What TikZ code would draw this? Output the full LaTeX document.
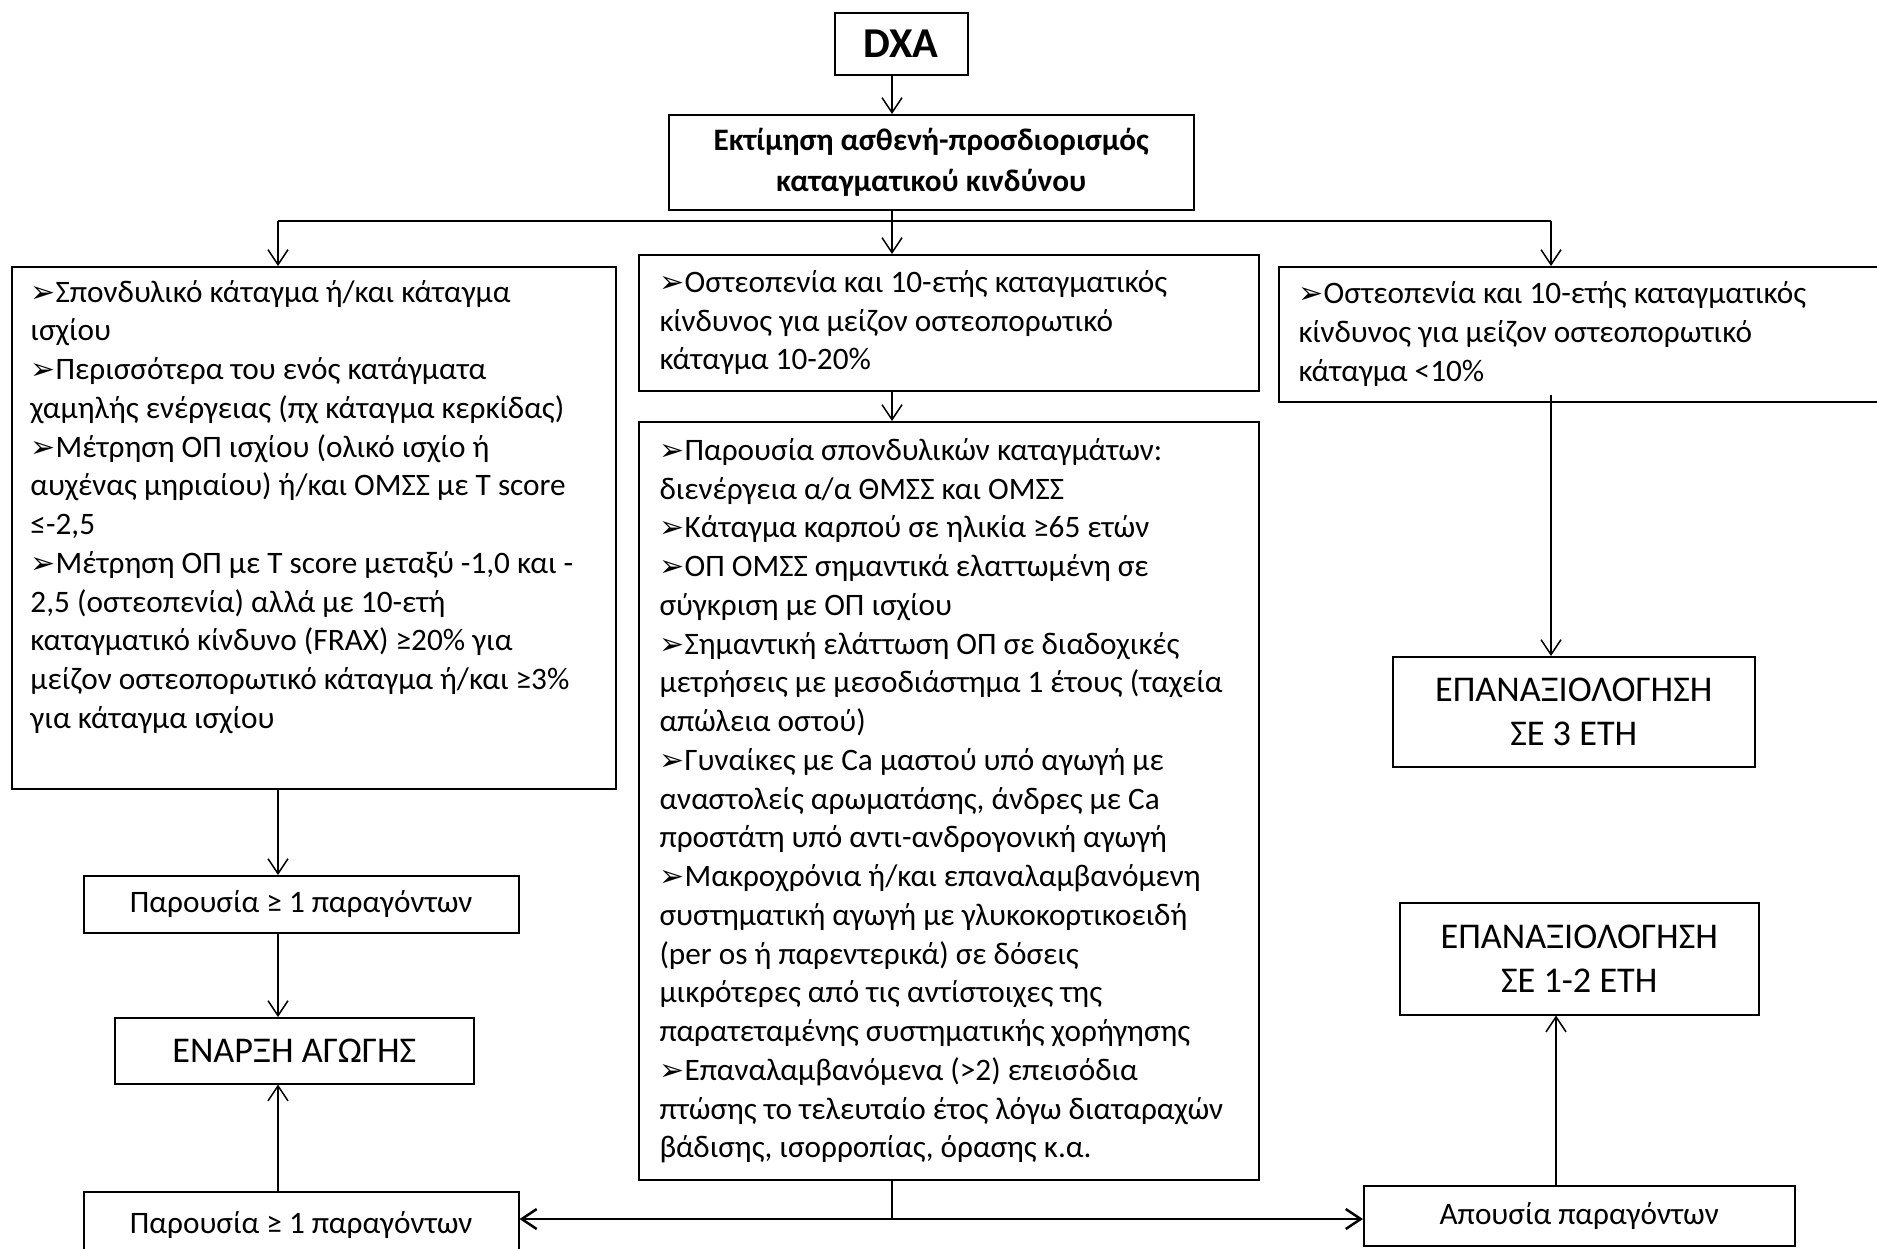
\documentclass[tikz,border=0pt]{standalone}
\usepackage{fontspec}
\setmainfont{Carlito}
\newfontfamily\symfont{DejaVu Sans}
\usetikzlibrary{positioning}
\usetikzlibrary{arrows.meta}

\def\u{0.4pt}
\newcommand{\bullt}{{\symfont\fontsize{12}{12}\selectfont ➢}}

\begin{document}
\begin{tikzpicture}[
      , x=0.4pt, y=-0.4pt
      , box/.style={draw, line width=0.6pt, inner sep=0pt, anchor=north west}
      , txt/.style={font=\fontsize{12.5}{15.5}\selectfont, align=left, inner sep=0pt, anchor=west}
      , big/.style={font=\fontsize{14.5}{17.5}\selectfont, align=center}
      , small/.style={font=\fontsize{12.5}{15.5}\selectfont}
      , link/.style={->, line width=0.6pt}
      ]

      \tikzset{>={Straight Barb[length=6pt,width=8pt]}}

      \fill[white] (0,0) rectangle (1877,1248);
      \useasboundingbox (0,0) rectangle (1877,1248);

      \node[box, minimum width=133*\u, minimum height=62*\u, font=\fontsize{17}{20}\selectfont\bfseries] (dxa) at (834,12) {DXA\hspace{6pt}};
      \node[box, minimum width=525*\u, minimum height=95*\u, align=center, font=\fontsize{12.5}{16.5}\selectfont\bfseries] (assess) at (668,114) {Εκτίμηση ασθενή-προσδιορισμός\\καταγματικού κινδύνου};

      \node[box, minimum width=604*\u, minimum height=522*\u] (op-high) at (11,266) {};
      \node[box, minimum width=620*\u, minimum height=136*\u] (op-mid) at (638,254) {};
      \node[box, minimum width=640*\u, minimum height=135*\u] (op-low) at (1278,266) {};
      \node[box, minimum width=620*\u, minimum height=758*\u] (extra) at (638,421) {};

      \node[txt] (op-high-txt) at ([xshift=19*\u, yshift=21*\u]op-high.west) {%
        \bullt Σπονδυλικό κάταγμα ή/και κάταγμα\\
        ισχίου\\
        \bullt Περισσότερα του ενός κατάγματα\\
        χαμηλής ενέργειας (πχ κάταγμα κερκίδας)\\
        \bullt Μέτρηση ΟΠ ισχίου (ολικό ισχίο ή\\
        αυχένας μηριαίου) ή/και ΟΜΣΣ με T score\\
        ≤-2,5\\
        \bullt Μέτρηση ΟΠ με T score μεταξύ -1,0 και -\\
        2,5 (οστεοπενία) αλλά με 10-ετή\\
        καταγματικό κίνδυνο (FRAX) ≥20\% για\\
        μείζον οστεοπορωτικό κάταγμα ή/και ≥3\%\\
        για κάταγμα ισχίου};
      \node[txt] (op-mid-txt) at ([xshift=21*\u]op-mid.west) {%
        \bullt Οστεοπενία και 10-ετής καταγματικός\\
        κίνδυνος για μείζον οστεοπορωτικό\\
        κάταγμα 10-20\%};
      \node[txt] (op-low-txt) at ([xshift=20*\u]op-low.west) {%
        \bullt Οστεοπενία και 10-ετής καταγματικός\\
        κίνδυνος για μείζον οστεοπορωτικό\\
        κάταγμα <10\%};
      \node[txt] (extra-txt) at ([xshift=21*\u]extra.west) {%
        \bullt Παρουσία σπονδυλικών καταγμάτων:\\
        διενέργεια α/α ΘΜΣΣ και ΟΜΣΣ\\
        \bullt Κάταγμα καρπού σε ηλικία ≥65 ετών\\
        \bullt ΟΠ ΟΜΣΣ σημαντικά ελαττωμένη σε\\
        σύγκριση με ΟΠ ισχίου\\
        \bullt Σημαντική ελάττωση ΟΠ σε διαδοχικές\\
        μετρήσεις με μεσοδιάστημα 1 έτους (ταχεία\\
        απώλεια οστού)\\
        \bullt Γυναίκες με Ca μαστού υπό αγωγή με\\
        αναστολείς αρωματάσης, άνδρες με Ca\\
        προστάτη υπό αντι-ανδρογονική αγωγή\\
        \bullt Μακροχρόνια ή/και επαναλαμβανόμενη\\
        συστηματική αγωγή με γλυκοκορτικοειδή\\
        (per os ή παρεντερικά) σε δόσεις\\
        μικρότερες από τις αντίστοιχες της\\
        παρατεταμένης συστηματικής χορήγησης\\
        \bullt Επαναλαμβανόμενα (>2) επεισόδια\\
        πτώσης το τελευταίο έτος λόγω διαταραχών\\
        βάδισης, ισορροπίας, όρασης κ.α.};

      \node[box, big, minimum width=362*\u, minimum height=110*\u] (re-3) at (1392,656) {ΕΠΑΝΑΞΙΟΛΟΓΗΣΗ\\ΣΕ 3 ΕΤΗ};
      \node[box, big, minimum width=359*\u, minimum height=112*\u] (re-12) at (1399,902) {ΕΠΑΝΑΞΙΟΛΟΓΗΣΗ\\ΣΕ 1-2 ΕΤΗ};
      \node[box, small, minimum width=435*\u, minimum height=57*\u] (pres-1) at (83,875) {Παρουσία ≥ 1 παραγόντων};
      \node[box, big, minimum width=359*\u, minimum height=66*\u] (start) at (114,1017) {ΕΝΑΡΞΗ ΑΓΩΓΗΣ};
      \node[box, small, minimum width=435*\u, minimum height=66*\u] (pres-2) at (83,1191) {Παρουσία ≥ 1 παραγόντων};
      \node[box, small, minimum width=431*\u, minimum height=60*\u] (absent) at (1363,1185) {Απουσία παραγόντων};

      \coordinate (split) at (892,221);
      \coordinate (split-left) at (278,221);
      \coordinate (split-right) at (1551,221);
      \coordinate (up-right) at (1556,0);
      \coordinate (join) at (892,1219);

      \draw[link] (dxa.south -| split) -- (assess.north -| split);
      \draw[line width=0.6pt] (assess.south -| split) -- (split);
      \draw[line width=0.6pt] (split-left) -- (split-right);
      \draw[link] (split-left) -- (split-left |- op-high.north);
      \draw[link] (split) -- (op-mid.north -| split);
      \draw[link] (split-right) -- (split-right |- op-low.north);

      \draw[link] (op-mid.south -| split) -- (extra.north -| split);
      \draw[link] (op-high.south -| split-left) -- (pres-1.north -| split-left);
      \draw[link] (pres-1.south -| split-left) -- (start.north -| split-left);
      \draw[link] (pres-2.north -| split-left) -- (start.south -| split-left);
      \draw[link] ([yshift=3pt]op-low.south -| split-right) -- (re-3.north -| split-right);
      \draw[link] (absent.north -| up-right) -- (re-12.south -| up-right);

      \draw[line width=0.6pt] (extra.south -| join) -- (join);
      \draw[<->, line width=1pt] (pres-2.east |- join) -- (absent.west |- join);
    \end{tikzpicture}
\end{document}
